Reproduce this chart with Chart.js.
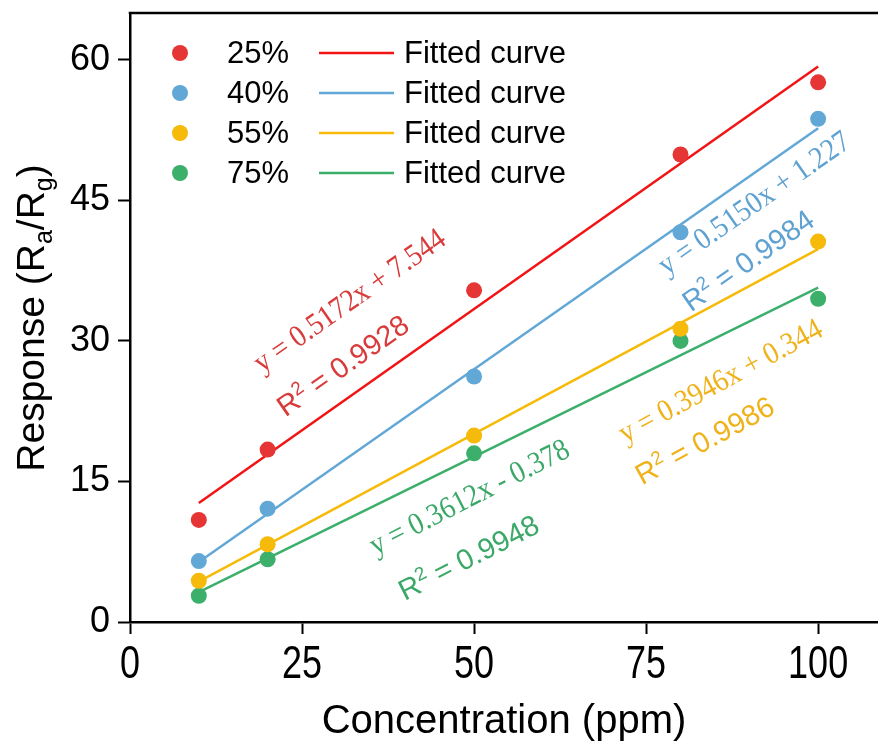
<!DOCTYPE html>
<html><head><meta charset="utf-8">
<script src="https://cdn.jsdelivr.net/npm/chart.js@4/dist/chart.umd.min.js"></script>
<style>html,body{margin:0;padding:0;background:#fff}#wrap{width:878px;height:748px}</style>
</head><body><div id="wrap"><canvas id="c" width="878" height="748"></canvas></div>
<script>
// ---- data ----
const concentrations = [10, 20, 50, 80, 100];
const humidityLabels = ['25%', '40%', '55%', '75%'];
const resp25 = [10.9, 18.4, 35.4, 49.9, 57.6];
const resp40 = [6.5, 12.1, 26.2, 41.6, 53.7];
const resp55 = [4.4, 8.3, 19.9, 31.3, 40.6];
const resp75 = [2.8, 6.7, 18.0, 30.0, 34.5];
const fitX = [10, 100];
const fit25 = [12.7, 59.3];
const fit40 = [6.4, 52.7];
const fit55 = [4.3, 39.8];
const fit75 = [3.2, 35.7];
const fitLabel = 'Fitted curve';
const fitEquations = ['y = 0.5172x + 7.544', 'y = 0.5150x + 1.227', 'y = 0.3946x + 0.344', 'y = 0.3612x - 0.378'];
const fitR2 = ['0.9928', '0.9984', '0.9986', '0.9948'];
const xTicks = [0, 25, 50, 75, 100];
const yTicks = [0, 15, 30, 45, 60];
const xTitle = 'Concentration (ppm)';

// ---- styles ----
const dotColors = ['#E53535', '#62A8D6', '#F5BA0A', '#3CAF6B'];
const lineColors = ['#F21414', '#62A8D6', '#F5BA0A', '#3CAF6B'];
const textColors = ['#D93A3A', '#5FA2D2', '#EFB21A', '#3BA868'];
const SANS = "'Liberation Sans', Arial, sans-serif";
const SERIF = "'Liberation Serif', 'Times New Roman', serif";

const respSeries = [resp25, resp40, resp55, resp75];
const fitSeries = [fit25, fit40, fit55, fit75];

const datasets = [];
respSeries.forEach((s, i) => {
  datasets.push({
    type: 'scatter', label: humidityLabels[i],
    data: concentrations.map((x, k) => ({x, y: s[k]})),
    backgroundColor: dotColors[i], borderColor: dotColors[i], borderWidth: 0,
    pointRadius: 8, pointHoverRadius: 8, order: 1
  });
});
fitSeries.forEach((s, i) => {
  datasets.push({
    type: 'line', label: fitLabel,
    data: fitX.map((x, k) => ({x, y: s[k]})),
    borderColor: lineColors[i], borderWidth: 2.5, pointRadius: 0, fill: false, order: 2
  });
});

// annotation placement (data coords) and rotation
const annot = [
  {eq: [32.0, 34.2], r2: [30.9, 27.4], ang: -35},
  {eq: [90.8, 44.6], r2: [89.8, 38.6], ang: -35},
  {eq: [85.9, 25.6], r2: [83.5, 19.4], ang: -28.5},
  {eq: [49.4, 13.2], r2: [49.2, 6.9], ang: -27}
];

const framePlugin = {
  id: 'frame',
  afterDraw(chart) {
    const {ctx, chartArea: a, scales} = chart;
    ctx.save();
    // top border
    ctx.strokeStyle = '#000'; ctx.lineWidth = 2.5;
    ctx.beginPath(); ctx.moveTo(a.left - 1.25, a.top); ctx.lineTo(a.right, a.top); ctx.stroke();

    // x tick labels (tall, condensed look as in the reference)
    ctx.fillStyle = '#000'; ctx.font = '36px ' + SANS; ctx.textAlign = 'center'; ctx.textBaseline = 'alphabetic';
    scales.x.ticks.forEach(t => {
      const px = scales.x.getPixelForValue(t.value);
      ctx.save(); ctx.translate(px, 678); ctx.scale(1, 1.27);
      ctx.fillText(String(t.value), 0, 0);
      ctx.restore();
    });

    // annotations
    annot.forEach((an, i) => {
      ctx.fillStyle = textColors[i];
      let px = scales.x.getPixelForValue(an.eq[0]), py = scales.y.getPixelForValue(an.eq[1]);
      ctx.save(); ctx.translate(px, py); ctx.rotate(an.ang * Math.PI / 180); ctx.scale(0.9, 1);
      ctx.font = '31px ' + SERIF; ctx.textAlign = 'center'; ctx.textBaseline = 'middle';
      ctx.fillText(fitEquations[i], 0, 0);
      ctx.restore();
      px = scales.x.getPixelForValue(an.r2[0]); py = scales.y.getPixelForValue(an.r2[1]);
      ctx.save(); ctx.translate(px, py); ctx.rotate(an.ang * Math.PI / 180);
      ctx.textAlign = 'left'; ctx.textBaseline = 'alphabetic';
      const big = '29px ' + SANS, small = '19px ' + SANS;
      ctx.font = big; const wR = ctx.measureText('R').width;
      const rest = ' = ' + fitR2[i]; const wRest = ctx.measureText(rest).width;
      ctx.font = small; const w2 = ctx.measureText('2').width;
      let x0 = -(wR + w2 + wRest) / 2; const base = 10;
      ctx.font = big; ctx.fillText('R', x0, base); x0 += wR;
      ctx.font = small; ctx.fillText('2', x0, base - 11); x0 += w2;
      ctx.font = big; ctx.fillText(rest, x0, base);
      ctx.restore();
    });

    // legend
    const lx = a.left + 50, ly = a.top + 40;
    humidityLabels.forEach((lab, i) => {
      const y = ly + 40 * i;
      ctx.fillStyle = dotColors[i];
      ctx.beginPath(); ctx.arc(lx, y, 8, 0, Math.PI * 2); ctx.fill();
      ctx.fillStyle = '#000'; ctx.font = '31px ' + SANS; ctx.textAlign = 'left'; ctx.textBaseline = 'middle';
      ctx.fillText(lab, a.left + 97, y + 1);
      ctx.strokeStyle = lineColors[i]; ctx.lineWidth = 2.5;
      ctx.beginPath(); ctx.moveTo(a.left + 189, y); ctx.lineTo(a.left + 264, y); ctx.stroke();
      ctx.fillStyle = '#000';
      ctx.fillText(fitLabel, a.left + 274, y + 1);
    });

    // y-axis title with subscripts
    ctx.save();
    ctx.translate(44, 318);
    ctx.rotate(-Math.PI / 2);
    ctx.fillStyle = '#000'; ctx.textBaseline = 'alphabetic'; ctx.textAlign = 'left';
    const parts = [['Response (R', 0], ['a', 1], ['/R', 0], ['g', 1], [')', 0]];
    const fBig = '39px ' + SANS, fSub = '25px ' + SANS;
    let tw = 0;
    parts.forEach(p => { ctx.font = p[1] ? fSub : fBig; tw += ctx.measureText(p[0]).width; });
    let xx = -tw / 2;
    parts.forEach(p => {
      ctx.font = p[1] ? fSub : fBig;
      ctx.fillText(p[0], xx, p[1] ? 8 : 0);
      xx += ctx.measureText(p[0]).width;
    });
    ctx.restore();
    ctx.restore();
  }
};

new Chart(document.getElementById('c'), {
  data: {datasets},
  options: {
    responsive: false, animation: false, devicePixelRatio: 1,
    layout: {autoPadding: false, padding: {top: 13, right: 0, left: 0, bottom: 0}},
    plugins: {legend: {display: false}, tooltip: {enabled: false}},
    scales: {
      x: {
        type: 'linear', min: 0, max: 108.7,
        afterBuildTicks: s => { s.ticks = xTicks.map(v => ({value: v})); },
        afterFit: s => { s.height = 126; s.paddingLeft = 0; s.paddingRight = 0; },
        grid: {drawOnChartArea: false, drawTicks: true, tickLength: 12, tickWidth: 2, tickColor: '#000'},
        border: {display: true, color: '#000', width: 2.5},
        ticks: {display: false},
        title: {display: true, text: xTitle, color: '#000', font: {family: SANS, size: 40}, padding: {top: 0, bottom: 2}}
      },
      y: {
        type: 'linear', min: 0, max: 65,
        afterBuildTicks: s => { s.ticks = yTicks.map(v => ({value: v})); },
        afterFit: s => { s.width = 130; s.paddingTop = 0; s.paddingBottom = 0; },
        grid: {drawOnChartArea: false, drawTicks: true, tickLength: 12, tickWidth: 2, tickColor: '#000'},
        border: {display: true, color: '#000', width: 2.5},
        ticks: {color: '#000', padding: 8, font: {family: SANS, size: 36}},
        title: {display: false}
      }
    }
  },
  plugins: [framePlugin]
});
</script></body></html>
